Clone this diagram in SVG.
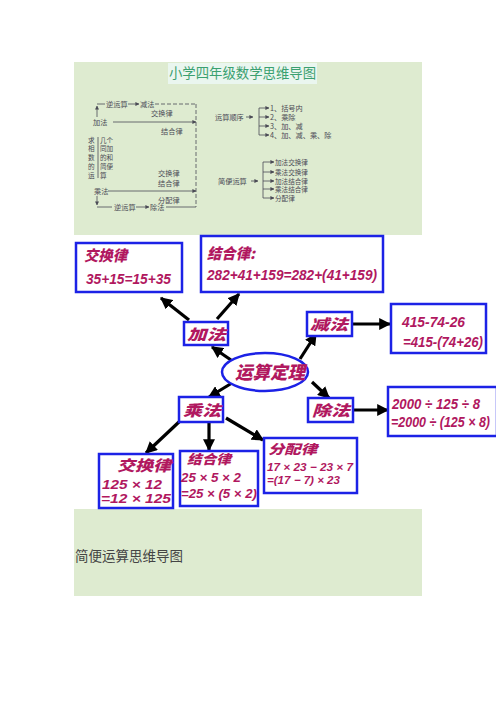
<svg xmlns="http://www.w3.org/2000/svg" width="496" height="702" viewBox="0 0 496 702">
<defs>
<style>
.sm{font-family:"Noto Sans CJK SC","Liberation Sans",sans-serif;font-size:7.2px;fill:#4a4a55}
.st{font-size:6.6px}
.ln{stroke:#4a4a55;stroke-width:0.8;fill:none}
.dl{stroke:#4a4a55;stroke-width:0.8;fill:none;stroke-dasharray:4 2}
.box{fill:#fff;stroke:#1c22e6;stroke-width:2.5}
.hw{font-family:"Noto Sans CJK SC",sans-serif;font-weight:900;font-style:italic;fill:#b1185f}
.num{font-family:"Liberation Sans","DejaVu Sans",sans-serif;font-style:italic;font-weight:bold;fill:#b1185f}
.arr{stroke:#000;stroke-width:3.2;fill:none;marker-end:url(#ah)}
.sa{marker-end:url(#sh)}
</style>
<marker id="ah" viewBox="0 0 10 10" markerUnits="userSpaceOnUse" markerWidth="12" markerHeight="12" refX="9" refY="5" orient="auto">
<path d="M0,0 L10,5 L0,10 z" fill="#000"/>
</marker>
<marker id="sh" viewBox="0 0 10 10" markerUnits="userSpaceOnUse" markerWidth="4" markerHeight="4" refX="9" refY="5" orient="auto">
<path d="M0,0 L10,5 L0,10 z" fill="#4a4a55"/>
</marker>
</defs>

<!-- page panel -->
<rect x="74" y="62" width="348" height="534" fill="#deebd0"/>
<rect x="168" y="63" width="149" height="21" fill="#eaf6ef"/>
<text x="242.5" y="78" text-anchor="middle" font-family="Noto Sans CJK SC,sans-serif" font-size="13.5" fill="#3aa070" textLength="147" lengthAdjust="spacingAndGlyphs">小学四年级数学思维导图</text>

<!-- small diagram left -->
<g id="small-left">
<line class="ln" x1="97" y1="104" x2="105" y2="104"/>
<text class="sm" x="106" y="106.5">逆运算</text>
<line class="ln sa" x1="128" y1="104" x2="139" y2="104"/>
<text class="sm" x="140" y="106.5">减法</text>
<line class="dl" x1="155" y1="104" x2="196" y2="104"/>
<line class="dl" x1="196" y1="104" x2="196" y2="207"/>
<line class="ln sa" x1="97" y1="117" x2="97" y2="106"/>
<text class="sm" x="151" y="115.5">交换律</text>
<text class="sm" x="93" y="124.5">加法</text>
<line class="ln sa" x1="113" y1="122" x2="196" y2="122"/>
<text class="sm" x="161" y="133.5">结合律</text>
<text class="sm st"><tspan x="88" y="142.5">求</tspan><tspan x="88" y="150.5">相</tspan><tspan x="88" y="159.5">数</tspan><tspan x="88" y="168.5">的</tspan><tspan x="88" y="177.5">运</tspan></text>
<line class="ln" x1="98" y1="137" x2="98" y2="178"/>
<text class="sm st"><tspan x="100" y="142.5">几个</tspan><tspan x="100" y="150.5">同加</tspan><tspan x="100" y="159.5">的和</tspan><tspan x="100" y="168.5">简便</tspan><tspan x="100" y="177.5">算</tspan></text>
<text class="sm"><tspan x="158" y="175.5">交换律</tspan><tspan x="158" y="185.5">结合律</tspan></text>
<text class="sm" x="94" y="193.5">乘法</text>
<line class="ln sa" x1="108" y1="191" x2="196" y2="191"/>
<text class="sm" x="158" y="202.5">分配律</text>
<line class="ln sa" x1="97" y1="196" x2="97" y2="205"/>
<line class="ln" x1="97" y1="207" x2="112" y2="207"/>
<text class="sm" x="114" y="209.5">逆运算</text>
<line class="ln sa" x1="136" y1="207" x2="149" y2="207"/>
<text class="sm" x="150" y="209.5">除法</text>
<line class="ln" x1="166" y1="207" x2="196" y2="207"/>
</g>

<!-- small diagram right -->
<g id="small-right">
<text class="sm" x="215" y="119.5">运算顺序</text>
<line class="ln sa" x1="246" y1="117" x2="253" y2="117"/>
<line class="ln" x1="259" y1="108" x2="259" y2="135"/>
<line class="ln sa" x1="259" y1="108" x2="269" y2="108"/>
<line class="ln sa" x1="259" y1="117" x2="269" y2="117"/>
<line class="ln sa" x1="259" y1="126" x2="269" y2="126"/>
<line class="ln sa" x1="259" y1="135" x2="269" y2="135"/>
<text class="sm"><tspan x="270" y="110.5">1、括号内</tspan><tspan x="270" y="119.5">2、乘除</tspan><tspan x="270" y="128.5">3、加、减</tspan><tspan x="270" y="137.5">4、加、减、乘、除</tspan></text>
<text class="sm" x="218" y="183.5">简便运算</text>
<line class="ln sa" x1="251" y1="181" x2="258" y2="181"/>
<line class="ln" x1="263" y1="162" x2="263" y2="198"/>
<line class="ln sa" x1="263" y1="162" x2="274" y2="162"/>
<line class="ln sa" x1="263" y1="172" x2="274" y2="172"/>
<line class="ln sa" x1="263" y1="181" x2="274" y2="181"/>
<line class="ln sa" x1="263" y1="189" x2="274" y2="189"/>
<line class="ln sa" x1="263" y1="198" x2="274" y2="198"/>
<text class="sm st"><tspan x="275" y="164.5">加法交换律</tspan><tspan x="275" y="174.5">乘法交换律</tspan><tspan x="275" y="183.5">加法结合律</tspan><tspan x="275" y="191.5">乘法结合律</tspan><tspan x="275" y="200.5">分配律</tspan></text>
</g>

<!-- mind map image area -->
<rect x="74" y="235" width="422" height="274" fill="#fff"/>

<g id="connectors">
<line class="arr" x1="189" y1="320" x2="161" y2="298"/>
<line class="arr" x1="217" y1="319" x2="239" y2="294"/>
<line class="arr" x1="231" y1="360" x2="212" y2="347"/>
<line class="arr" x1="300" y1="359" x2="316" y2="334"/>
<line class="arr" x1="352" y1="324" x2="390" y2="324"/>
<line class="arr" x1="312" y1="382" x2="329" y2="398"/>
<line class="arr" x1="353" y1="410" x2="388" y2="410"/>
<line class="arr" x1="232" y1="383" x2="209" y2="397"/>
<line class="arr" x1="180" y1="421" x2="146" y2="453"/>
<line class="arr" x1="209" y1="423" x2="209" y2="450"/>
<line class="arr" x1="226" y1="418" x2="263" y2="440"/>
</g>

<g id="add-comm">
<rect class="box" x="76" y="243" width="106" height="49"/>
<text class="hw" x="84" y="261" font-size="15" textLength="43" lengthAdjust="spacingAndGlyphs">交换律</text>
<text class="num" x="86" y="284" font-size="15" textLength="85" lengthAdjust="spacingAndGlyphs">35+15=15+35</text>
</g>
<g id="add-assoc">
<rect class="box" x="201" y="236" width="182" height="56"/>
<text class="hw" x="207" y="259" font-size="15" textLength="48" lengthAdjust="spacingAndGlyphs">结合律:</text>
<text class="num" x="207" y="280" font-size="14" textLength="170" lengthAdjust="spacingAndGlyphs">282+41+159=282+(41+159)</text>
</g>
<g id="add">
<rect class="box" x="184" y="322" width="44" height="23"/>
<text class="hw" x="187" y="339.5" font-size="15" textLength="39" lengthAdjust="spacingAndGlyphs">加法</text>
</g>
<g id="sub">
<rect class="box" x="307" y="312" width="45" height="24"/>
<text class="hw" x="310" y="329.5" font-size="15" textLength="38" lengthAdjust="spacingAndGlyphs">减法</text>
</g>
<g id="sub-rule">
<rect class="box" x="391" y="304" width="95" height="49"/>
<text class="num" x="402" y="327" font-size="14" textLength="63" lengthAdjust="spacingAndGlyphs">415-74-26</text>
<text class="num" x="403" y="347" font-size="14" textLength="80" lengthAdjust="spacingAndGlyphs">=415-(74+26)</text>
</g>
<g id="center">
<ellipse cx="265" cy="372" rx="43" ry="19" fill="#fff" stroke="#1c22e6" stroke-width="2.5"/>
<text class="hw" x="235" y="378.5" font-size="18" textLength="70" lengthAdjust="spacingAndGlyphs">运算定理</text>
</g>
<g id="mul">
<rect class="box" x="179" y="397" width="44" height="25"/>
<text class="hw" x="183" y="416" font-size="15" textLength="38" lengthAdjust="spacingAndGlyphs">乘法</text>
</g>
<g id="div">
<rect class="box" x="308" y="398" width="45" height="24"/>
<text class="hw" x="312" y="416" font-size="15" textLength="38" lengthAdjust="spacingAndGlyphs">除法</text>
</g>
<g id="div-rule">
<rect class="box" x="388" y="387" width="109" height="49"/>
<text class="num" x="392" y="409" font-size="14" textLength="88" lengthAdjust="spacingAndGlyphs">2000 ÷ 125 ÷ 8</text>
<text class="num" x="391" y="427" font-size="14" textLength="99" lengthAdjust="spacingAndGlyphs">=2000 ÷ (125 × 8)</text>
</g>
<g id="mul-comm">
<rect class="box" x="99" y="454" width="74" height="54"/>
<text class="hw" x="117" y="471" font-size="15" textLength="54" lengthAdjust="spacingAndGlyphs">交换律</text>
<text class="num" x="102" y="489" font-size="13" textLength="60" lengthAdjust="spacingAndGlyphs">125 × 12</text>
<text class="num" x="101" y="503" font-size="13" textLength="70" lengthAdjust="spacingAndGlyphs">=12 × 125</text>
</g>
<g id="mul-assoc">
<rect class="box" x="180" y="451" width="78" height="55"/>
<text class="hw" x="187" y="464" font-size="13" textLength="44" lengthAdjust="spacingAndGlyphs">结合律</text>
<text class="num" x="181" y="482" font-size="13" textLength="60" lengthAdjust="spacingAndGlyphs">25 × 5 × 2</text>
<text class="num" x="181" y="498" font-size="13" textLength="76" lengthAdjust="spacingAndGlyphs">=25 × (5 × 2)</text>
</g>
<g id="distrib">
<rect class="box" x="264" y="438" width="93" height="55"/>
<text class="hw" x="268" y="454" font-size="13" textLength="49" lengthAdjust="spacingAndGlyphs">分配律</text>
<text class="num" x="267" y="471" font-size="11.5" textLength="86" lengthAdjust="spacingAndGlyphs">17 × 23 − 23 × 7</text>
<text class="num" x="267" y="484" font-size="11.5" textLength="73" lengthAdjust="spacingAndGlyphs">=(17 − 7) × 23</text>
</g>

<text x="75" y="561" font-family="Noto Sans CJK SC,sans-serif" font-size="13.5" fill="#444" textLength="108" lengthAdjust="spacingAndGlyphs">简便运算思维导图</text>
</svg>
